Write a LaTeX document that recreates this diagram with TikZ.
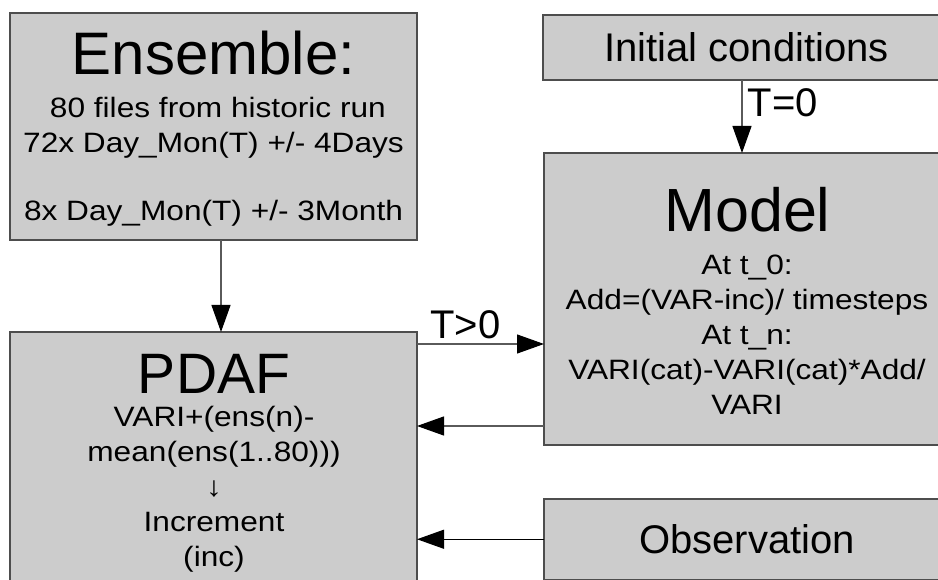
\documentclass[tikz,border=0pt]{standalone}
\usepackage{fontspec}
\setmainfont{Liberation Sans}
\newfontfamily\bodyfont[FakeStretch=1.13]{Liberation Sans}
\usetikzlibrary{arrows.meta,positioning}
\definecolor{boxfill}{HTML}{CCCCCC}
\definecolor{boxline}{HTML}{4D4D4D}
\definecolor{linkline}{HTML}{5A5A5A}

\tikzset{
  box/.style={draw=boxline, fill=boxfill, line width=1.3pt, rectangle, inner sep=0pt, outer sep=0pt},
  headtext/.style={font=\fontsize{60}{72}\selectfont, inner sep=0pt, anchor=base},
  bodytext/.style={font=\bodyfont\fontsize{28}{35}\selectfont, align=center, inner sep=0pt, anchor=north},
  link/.style={draw=linkline, line width=1.2pt, -{Triangle[length=27pt,width=19pt,color=black]}},
  lbl/.style={font=\fontsize{40}{48}\selectfont, inner sep=0pt}
}

\begin{document}
\begin{tikzpicture}[x=1pt,y=-1pt]
\path[use as bounding box] (0,0) rectangle (938,580);
\clip (0,0) rectangle (938,580);

%Boxes
\node[box, minimum width=407pt, minimum height=227pt] (ens) at (213.5,126.5) {};
\node[box, minimum width=407pt, minimum height=308pt] (pdaf) at (213.5,486) {};
\node[box, minimum width=407pt, minimum height=65pt, font=\fontsize{40}{48}\selectfont] (init) at (746.5,47.5) {Initial conditions};
\node[box, minimum width=406pt, minimum height=292pt] (model) at (747,299) {};
\node[box, minimum width=406pt, minimum height=80.5pt, font=\fontsize{40}{48}\selectfont] (obs) at (747,539.25) {Observation};

%Text
\node[headtext] (enshead) at (213.5,75) {Ensemble:};
\node[bodytext] (ensbody) at (213.5,96.6) {\ 80 files from historic run\\72x Day\_Mon(T) +/- 4Days\\[33pt]8x Day\_Mon(T) +/- 3Month};
\node[headtext, font=\fontsize{61}{72}\selectfont] (modelhead) at (747.5,232) {Model};
\node[bodytext] (modelbody) at (747,254.6) {At t\_0:\\Add=(VAR-inc)/ timesteps\\At t\_n:\\VARI(cat)-VARI(cat)*Add/\\VARI};
\node[headtext, font=\fontsize{57}{66}\selectfont] (pdafhead) at (214,393) {PDAF};
\node[bodytext] (pdafbody) at (214,406.5) {VARI+(ens(n)-\\mean(ens(1..80)))\\↓\\Increment\\(inc)};

%Arrows
\draw[link] ([xshift=7.5pt]ens.south) -- ([xshift=7.5pt]pdaf.north);
\draw[link] ([xshift=-4.5pt]init.south) -- node[lbl, anchor=base west, xshift=5pt] (tzero) {T=0} ([xshift=-4.5pt]init.south |- model.north);
\draw[link] ([yshift=-12pt]pdaf.north east) -- node[lbl, pos=0.38, anchor=base, yshift=5pt] (tpos) {T>0} ([yshift=-12pt]pdaf.north east -| model.west);
\draw[link] ([yshift=19pt]model.south west) -- ([yshift=19pt]model.south west -| pdaf.east);
\draw[link, draw=black] (obs.west) -- (obs.west -| pdaf.east);
\end{tikzpicture}
\end{document}
